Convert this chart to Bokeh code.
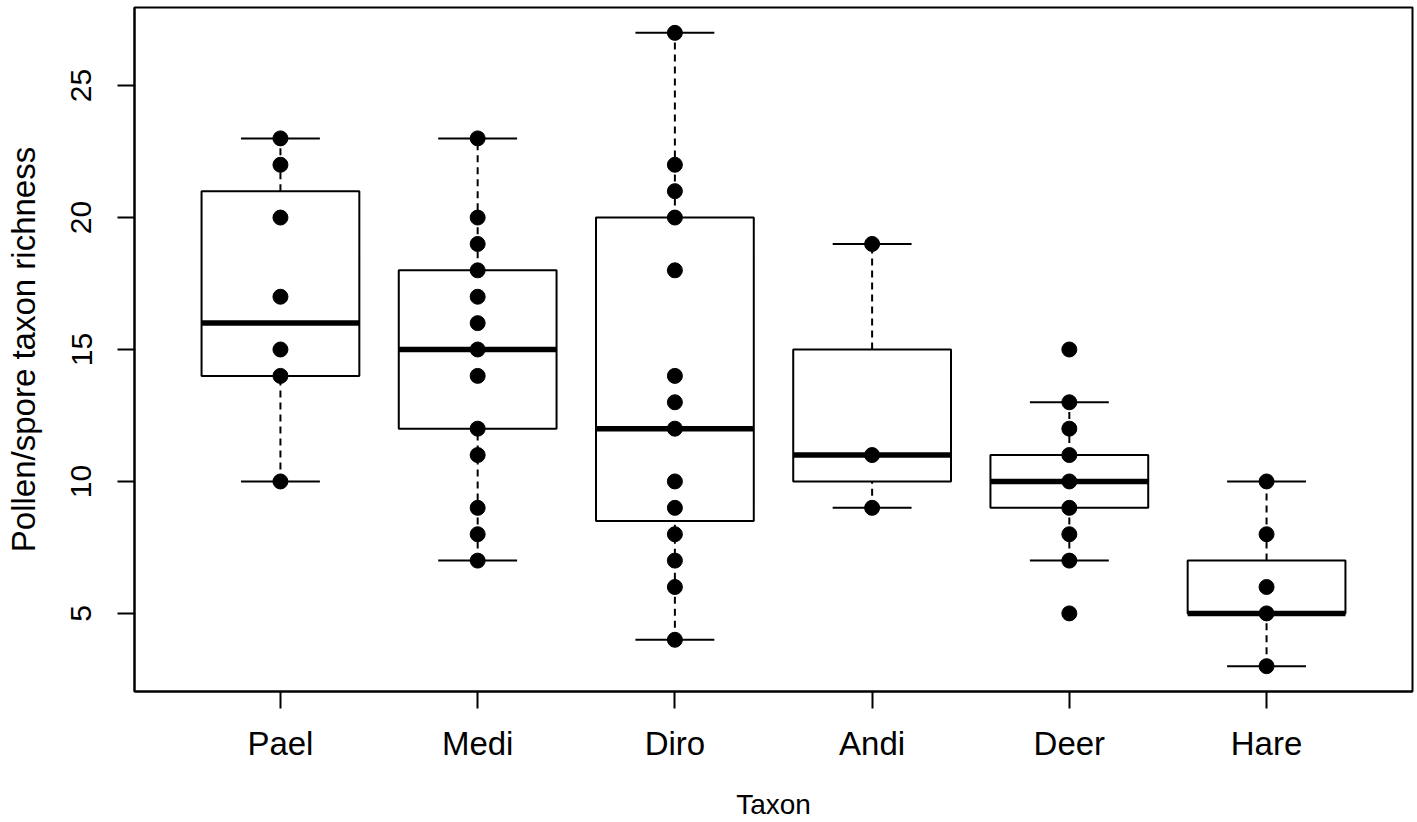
from bokeh.plotting import figure
from bokeh.models import ColumnDataSource, Range1d, FixedTicker
from bokeh.embed import file_html
from bokeh.resources import INLINE

# ---- data ----
taxa = ["Pael", "Medi", "Diro", "Andi", "Deer", "Hare"]
q1 = [14, 12, 8.5, 10, 9, 5]
medians = [16, 15, 12, 11, 10, 5]
q3 = [21, 18, 20, 15, 11, 7]
whisk_lo = [10, 7, 4, 9, 7, 3]
whisk_hi = [23, 23, 27, 19, 13, 10]

pael = [10, 14, 15, 17, 20, 22, 23]
medi = [7, 8, 9, 11, 12, 14, 15, 16, 17, 18, 19, 20, 23]
diro = [4, 6, 7, 8, 9, 10, 12, 13, 14, 18, 20, 21, 22, 27]
andi = [9, 11, 19]
deer = [5, 7, 8, 9, 10, 11, 12, 13, 15]
hare = [3, 5, 6, 8, 10]
points = [pael, medi, diro, andi, deer, hare]

y_ticks = [5, 10, 15, 20, 25]

# ---- derived positions ----
xs = list(range(1, len(taxa) + 1))
box_half = 0.4
cap_half = 0.2

box_src = ColumnDataSource(dict(
    x=xs,
    left=[x - box_half for x in xs], right=[x + box_half for x in xs],
    q1=q1, q3=q3, med=medians, lo=whisk_lo, hi=whisk_hi,
    cl=[x - cap_half for x in xs], cr=[x + cap_half for x in xs],
))

px, py = [], []
for x, vals in zip(xs, points):
    for v in vals:
        px.append(x)
        py.append(v)
pt_src = ColumnDataSource(dict(x=px, y=py))

p = figure(width=1417, height=822, output_backend="svg", toolbar_location=None,
           x_range=Range1d(0.26, 6.74), y_range=Range1d(2.04, 27.96),
           min_border_left=134, min_border_right=5, min_border_top=7,
           min_border_bottom=130)
p.background_fill_color = "white"
p.border_fill_color = "white"
p.outline_line_color = "black"
p.outline_line_width = 2
p.grid.visible = False

# whiskers (dashed)
p.segment(x0="x", y0="q3", x1="x", y1="hi", source=box_src, line_color="black",
          line_width=2, line_dash="7 5")
p.segment(x0="x", y0="lo", x1="x", y1="q1", source=box_src, line_color="black",
          line_width=2, line_dash="7 5")
# caps
p.segment(x0="cl", y0="hi", x1="cr", y1="hi", source=box_src, line_color="black", line_width=2)
p.segment(x0="cl", y0="lo", x1="cr", y1="lo", source=box_src, line_color="black", line_width=2)
# boxes
p.quad(left="left", right="right", bottom="q1", top="q3", source=box_src,
       fill_color=None, line_color="black", line_width=2)
# medians
p.segment(x0="left", y0="med", x1="right", y1="med", source=box_src,
          line_color="black", line_width=5.5)
# points
p.scatter(x="x", y="y", source=pt_src, size=15, marker="circle",
          fill_color="black", line_color="black")

font = "Liberation Sans"

xa = p.xaxis[0]
xa.ticker = FixedTicker(ticks=xs)
xa.major_label_overrides = {x: t for x, t in zip(xs, taxa)}
xa.axis_label = "Taxon"
xa.major_tick_out = 17
xa.major_tick_in = 0
xa.minor_tick_line_color = None
xa.major_tick_line_width = 2
xa.axis_line_width = 2
xa.major_label_text_font = font
xa.major_label_text_font_size = "33px"
xa.major_label_text_color = "black"
xa.major_label_standoff = 16
xa.axis_label_text_font = font
xa.axis_label_text_font_size = "28px"
xa.axis_label_text_font_style = "normal"
xa.axis_label_text_color = "black"
xa.axis_label_standoff = 24

ya = p.yaxis[0]
ya.ticker = FixedTicker(ticks=y_ticks)
ya.axis_label = "Pollen/spore taxon richness"
ya.major_tick_out = 17
ya.major_tick_in = 0
ya.minor_tick_line_color = None
ya.major_tick_line_width = 2
ya.axis_line_width = 2
ya.major_label_orientation = "vertical"
ya.major_label_text_font = font
ya.major_label_text_font_size = "30px"
ya.major_label_text_color = "black"
ya.major_label_standoff = 26
ya.axis_label_text_font = font
ya.axis_label_text_font_size = "33px"
ya.axis_label_text_font_style = "normal"
ya.axis_label_text_color = "black"
ya.axis_label_standoff = 27

open("out.html", "w").write(file_html(p, INLINE))
